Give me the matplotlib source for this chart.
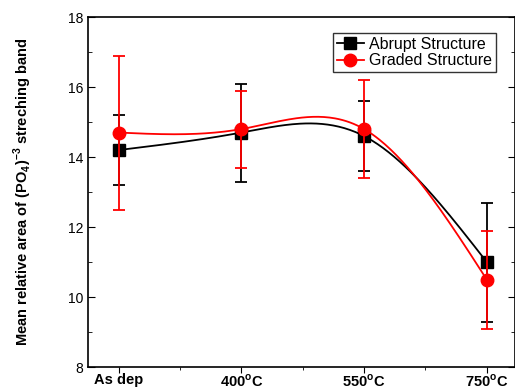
import numpy as np
import matplotlib
matplotlib.use('Agg')
import matplotlib.pyplot as plt
from matplotlib.ticker import MultipleLocator

plt.rcParams['font.family'] = ['Liberation Sans', 'DejaVu Sans']

categories = ['As dep', '400$^{\\mathregular{o}}$C', '550$^{\\mathregular{o}}$C', '750$^{\\mathregular{o}}$C']
abrupt = [14.2, 14.7, 14.6, 11.0]
abrupt_err = [1.0, 1.4, 1.0, 1.7]
graded = [14.7, 14.8, 14.8, 10.5]
graded_err = [2.2, 1.1, 1.4, 1.4]


# natural cubic spline through the points (smooth connecting line like Origin)
def spline(x, y, n=200):
    x = np.asarray(x, float)
    y = np.asarray(y, float)
    k = len(x)
    h = np.diff(x)
    A = np.zeros((k, k))
    b = np.zeros(k)
    A[0, 0] = A[-1, -1] = 1
    for i in range(1, k - 1):
        A[i, i - 1] = h[i - 1]
        A[i, i] = 2 * (h[i - 1] + h[i])
        A[i, i + 1] = h[i]
        b[i] = 6 * ((y[i + 1] - y[i]) / h[i] - (y[i] - y[i - 1]) / h[i - 1])
    M = np.linalg.solve(A, b)
    xs = np.linspace(x[0], x[-1], n)
    ys = np.empty_like(xs)
    for j, xv in enumerate(xs):
        i = min(np.searchsorted(x, xv, side='right') - 1, k - 2)
        t0 = x[i + 1] - xv
        t1 = xv - x[i]
        ys[j] = (M[i] * t0 ** 3 + M[i + 1] * t1 ** 3) / (6 * h[i]) \
            + (y[i] / h[i] - M[i] * h[i] / 6) * t0 \
            + (y[i + 1] / h[i] - M[i + 1] * h[i] / 6) * t1
    return xs, ys


x = np.arange(len(categories))

fig = plt.figure(figsize=(5.15, 3.88), dpi=100)
ax = fig.add_axes([0.171, 0.054, 0.829, 0.902])

xs, ys = spline(x, abrupt)
ax.plot(xs, ys, color='black', lw=1.3)
ax.errorbar(x, abrupt, yerr=abrupt_err, fmt='none', ecolor='black', elinewidth=1.3, capsize=4, capthick=1.3)
ax.plot(x, abrupt, 's', color='black', ms=8)

xs, ys = spline(x, graded)
ax.plot(xs, ys, color='red', lw=1.3)
ax.errorbar(x, graded, yerr=graded_err, fmt='none', ecolor='red', elinewidth=1.3, capsize=4, capthick=1.3)
ax.plot(x, graded, 'o', color='red', ms=9)

# legend handles
ax.plot([], [], '-s', color='black', lw=1.3, ms=8, label='Abrupt Structure')
ax.plot([], [], '-o', color='red', lw=1.3, ms=9, label='Graded Structure')
h, l = ax.get_legend_handles_labels()
leg = ax.legend(h[-2:], l[-2:], loc='upper right', bbox_to_anchor=(0.955, 0.955), fontsize=11.5,
                frameon=True, fancybox=False, edgecolor='black', borderpad=0.25, labelspacing=0.1,
                handlelength=1.7, handletextpad=0.3, borderaxespad=0)
leg.get_frame().set_linewidth(1.0)

ax.set_xlim(-0.25, 3.23)
ax.set_ylim(8, 18)
ax.set_xticks(x)
ax.set_xticklabels(categories, fontweight='bold', fontsize=10.5)
ax.xaxis.set_minor_locator(MultipleLocator(0.5))
ax.yaxis.set_major_locator(MultipleLocator(2))
ax.yaxis.set_minor_locator(MultipleLocator(1))
ax.tick_params(axis='y', which='both', direction='in', right=True, labelsize=10)
ax.tick_params(axis='x', which='both', direction='out', top=False, labelsize=10.5, pad=0)
ax.tick_params(axis='x', which='major', length=4)
ax.tick_params(axis='x', which='minor', length=2)
ax.tick_params(axis='y', which='major', length=5)
ax.tick_params(axis='y', which='minor', length=3)
ax.set_ylabel('Mean relative area of (PO$_{\\mathregular{4}}$)$^{\\mathregular{-3}}$ streching band',
              fontweight='bold', fontsize=10.5, labelpad=24)
for s in ax.spines.values():
    s.set_linewidth(1.2)

fig.savefig('out.png', dpi=100)
